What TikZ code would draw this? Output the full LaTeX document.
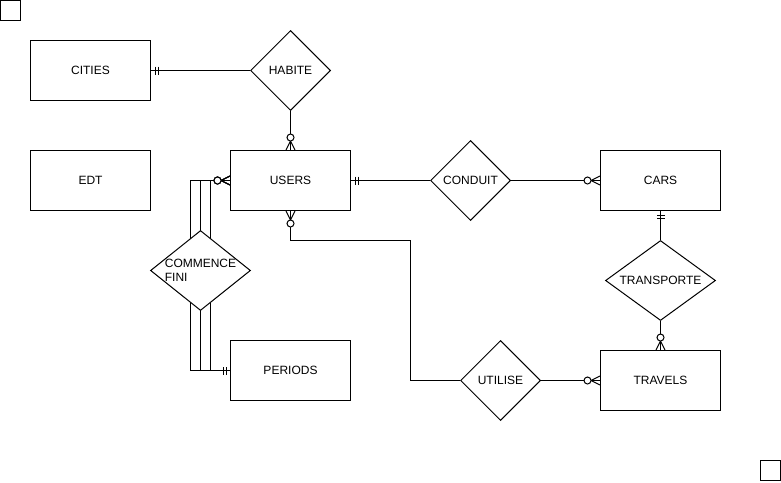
\documentclass[tikz,border=0pt]{standalone}
\usepackage{fontspec}
\setmainfont{Liberation Sans}
\usetikzlibrary{shapes.geometric}

% mandatory one: two bars near the entity
\pgfdeclarearrow{
  name = erone,
  setup code = {
    \pgfarrowssettipend{0pt}
    \pgfarrowssetlineend{0pt}
    \pgfarrowssetbackend{-8pt}
    \pgfarrowsupperhullpoint{0pt}{4pt}
    \pgfarrowsupperhullpoint{-8pt}{4pt}
  },
  drawing code = {
    \pgfsetlinewidth{1pt}
    \pgfpathmoveto{\pgfpoint{-4pt}{-4pt}}
    \pgfpathlineto{\pgfpoint{-4pt}{4pt}}
    \pgfpathmoveto{\pgfpoint{-7pt}{-4pt}}
    \pgfpathlineto{\pgfpoint{-7pt}{4pt}}
    \pgfusepathqstroke
  }
}
% zero or many: circle and crow's foot
\pgfdeclarearrow{
  name = ermany,
  setup code = {
    \pgfarrowssettipend{0pt}
    \pgfarrowssetlineend{0pt}
    \pgfarrowssetbackend{-16pt}
    \pgfarrowsupperhullpoint{0pt}{4.5pt}
    \pgfarrowsupperhullpoint{-16pt}{4.5pt}
  },
  drawing code = {
    \pgfsetlinewidth{1pt}
    \pgfpathmoveto{\pgfpoint{0pt}{-4.5pt}}
    \pgfpathlineto{\pgfpoint{-9pt}{0pt}}
    \pgfpathlineto{\pgfpoint{0pt}{4.5pt}}
    \pgfusepathqstroke
    \pgfpathcircle{\pgfpoint{-12.5pt}{0pt}}{3.5pt}
    \pgfsetfillcolor{white}
    \pgfusepathqfillstroke
  }
}

\begin{document}
\begin{tikzpicture}[x=1pt,y=-1pt,line width=1pt,
  every node/.style={font=\fontsize{12}{14}\selectfont},
  entity/.style={draw,rectangle,minimum width=120pt,minimum height=60pt,inner sep=0pt},
  rel/.style={draw,diamond,fill=white,inner sep=0pt,minimum width=80pt,minimum height=80pt}]
\useasboundingbox (0,0) rectangle (781,482);
\fill[white] (0,0) rectangle (781,482);

\node[draw,minimum size=20pt,inner sep=0pt] (corner1) at (10.5,10.5) {};
\node[draw,minimum size=20pt,inner sep=0pt] (corner2) at (770.5,470.5) {};

\node[entity] (cities) at (90.5,70.5) {CITIES};
\node[entity] (edt) at (90.5,180.5) {EDT};
\node[entity] (users) at (290.5,180.5) {USERS};
\node[entity] (periods) at (290.5,370.5) {PERIODS};
\node[entity] (cars) at (660.5,180.5) {CARS};
\node[entity] (travels) at (660.5,380.5) {TRAVELS};

\node[rel] (habite) at (290.5,70.5) {HABITE};
\node[rel] (conduit) at (470.5,180.5) {CONDUIT};
\node[rel,minimum width=110pt,shape aspect=1.375,inner sep=-4pt] (transporte) at (660.5,280.5) {TRANSPORTE};
\node[rel] (utilise) at (500.5,380.5) {UTILISE};

\draw[erone-] (cities) -- (habite);
\draw[-ermany] (habite) -- (users);
\draw[erone-] (users) -- (conduit);
\draw[-ermany] (conduit) -- (cars);
\draw[erone-] (cars) -- (transporte);
\draw[-ermany] (transporte) -- (travels);
\coordinate (bend) at (410.5,240.5);
\draw[ermany-] (users.south) |- (bend) |- (utilise.west);
\draw[-ermany] (utilise) -- (travels);

% users - periods, three routes
\foreach \x in {190.5,200.5,210.5}
  \draw[ermany-erone] (users.west) -| (\x,275) |- (periods.west);
\node[rel,minimum width=100pt,label={[align=left]center:COMMENCE\\FINI}] (commence) at (200.5,270.5) {};
\end{tikzpicture}
\end{document}
